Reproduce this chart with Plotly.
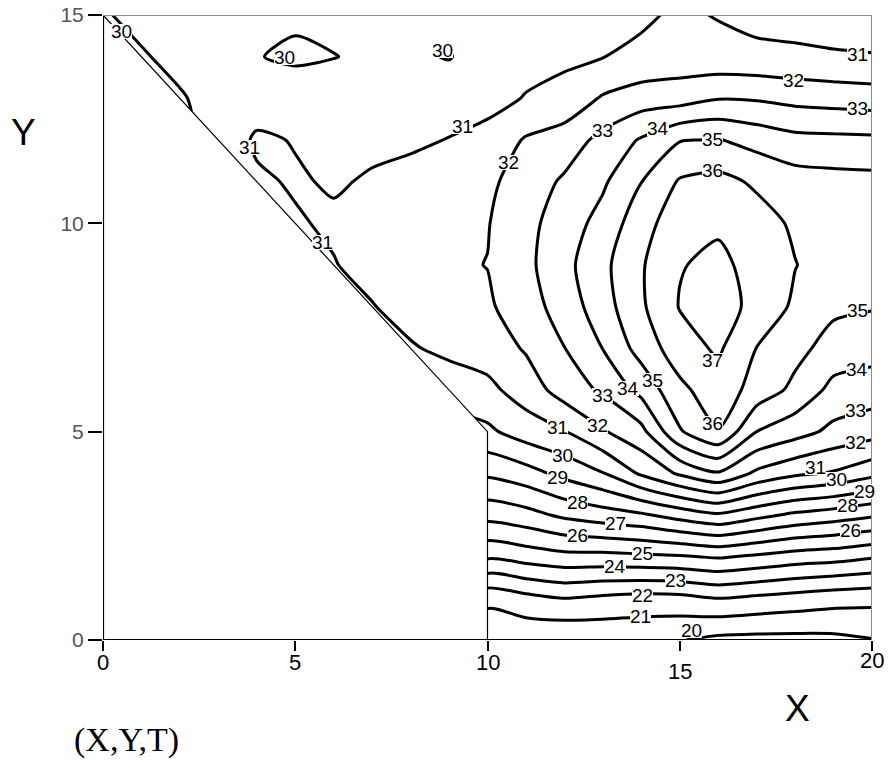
import plotly.graph_objects as go

# grid coordinates
x_vals = list(range(21))
y_vals = list(range(16))
N = None

# temperature field T(x, y), rows = y from 0 to 15, columns = x from 0 to 20
T_y0 = [N, N, N, N, N, N, N, N, N, N, 20.1, 20.2, 20.1, 20.2, 20.2, 20.05, 19.75, 19.7, 19.7, 19.75, 19.95]
T_y1 = [N, N, N, N, N, N, N, N, N, N, 21.3, 21.7, 22.0, 21.8, 21.65, 21.7, 22.0, 21.8, 21.6, 21.4, 21.3]
T_y2 = [N, N, N, N, N, N, N, N, N, N, 24.15, 24.45, 24.7, 24.7, 24.8, 24.9, 25.1, 24.85, 24.55, 24.4, 24.1]
T_y3 = [N, N, N, N, N, N, N, N, N, N, 26.35, 26.65, 27.2, 27.55, 27.85, 28.4, 28.85, 28.3, 27.8, 27.5, 27.15]
T_y4 = [N, N, N, N, N, N, N, N, N, N, 28.17, 28.6, 29.3, 29.95, 31.15, 32.15, 32.9, 31.8, 31.2, 30.9, 30.3]
T_y5 = [N, N, N, N, N, N, N, N, N, 29.6, 29.8, 30.5, 30.95, 31.9, 32.7, 34.9, 35.95, 34.0, 33.4, 32.75, 32.4]
T_y6 = [N, N, N, N, N, N, N, N, 30.3, 30.4, 30.75, 31.45, 32.45, 33.15, 34.3, 35.75, 36.6, 35.6, 34.75, 33.7, 33.5]
T_y7 = [N, N, N, N, N, N, N, 30.7, 30.9, 31.25, 31.45, 32.1, 32.98, 34.02, 35.4, 36.55, 37.15, 35.98, 35.3, 34.6, 34.4]
T_y8 = [N, N, N, N, N, N, 30.8, 30.95, 31.4, 31.65, 31.85, 32.57, 33.43, 34.57, 35.85, 37.05, 37.3, 36.8, 35.8, 35.2, 35.07]
T_y9 = [N, N, N, N, N, 30.8, 30.95, 31.35, 31.6, 31.85, 32.02, 32.75, 33.7, 34.75, 35.9, 36.95, 37.2, 36.7, 36.03, 35.55, 35.3]
T_y10 = [N, N, N, N, 30.7, 30.9, 31.15, 31.3, 31.5, 31.7, 31.95, 32.7, 33.5, 34.35, 35.6, 36.6, 36.87, 36.4, 35.85, 35.5, 35.35]
T_y11 = [N, N, N, 30.3, 30.85, 31.1, 30.9, 31.1, 31.3, 31.5, 31.8, 32.45, 33.15, 33.85, 34.98, 36.1, 36.3, 35.85, 35.45, 35.35, 35.3]
T_y12 = [N, N, 29.8, 30.3, 31.15, 30.95, 30.8, 30.8, 30.85, 31.03, 31.3, 32.1, 32.45, 33.3, 34.1, 34.95, 35.05, 34.65, 34.3, 34.25, 34.2]
T_y13 = [N, 29.7, 29.9, 30.4, 30.5, 30.7, 30.6, 30.55, 30.6, 30.6, 30.7, 31.05, 31.35, 32.1, 32.5, 32.57, 32.95, 32.9, 32.7, 32.6, 32.5]
T_y14 = [29.7, 29.9, 30.3, 30.35, 30.05, 29.8, 29.97, 30.2, 30.15, 29.95, 30.5, 30.7, 30.8, 30.98, 31.2, 31.4, 31.3, 31.25, 31.2, 31.1, 31.05]
T_y15 = [29.9, 30.3, 30.4, 30.4, 30.3, 30.2, 30.3, 30.4, 30.35, 30.3, 30.4, 30.5, 30.6, 30.7, 30.85, 31.15, 30.95, 30.7, 30.6, 30.55, 30.5]

T_grid = [T_y0, T_y1, T_y2, T_y3, T_y4, T_y5, T_y6, T_y7, T_y8, T_y9,
          T_y10, T_y11, T_y12, T_y13, T_y14, T_y15]

# contour levels that carry a label, and where the label sits (x, y)
label_level = [30, 30, 30, 31, 31, 31, 31, 32, 32, 33, 33, 34, 35, 36, 37,
               35, 34, 33, 32, 31, 30, 29, 28, 26,
               36, 35, 34, 33, 32, 31, 30, 29, 28, 27, 26, 25, 24, 23, 22, 21, 20]
label_x = [0.49, 4.73, 8.84, 3.82, 9.36, 5.72, 19.62, 10.55, 17.95, 13.0, 19.62, 14.43, 15.86, 15.84, 15.86,
           19.62, 19.62, 19.56, 19.56, 18.52, 19.08, 19.8, 19.35, 19.43,
           15.86, 14.28, 13.65, 13.0, 12.87, 11.81, 11.96, 11.83, 12.35, 13.32, 12.35, 14.02, 13.32, 14.88, 14.04, 13.97, 15.3]
label_y = [14.6, 13.97, 14.16, 11.83, 12.33, 9.55, 14.06, 11.45, 13.44, 12.24, 12.75, 12.28, 12.02, 11.26, 6.7,
           7.9, 6.5, 5.5, 4.73, 4.15, 3.86, 3.56, 3.22, 2.62,
           5.2, 6.24, 6.03, 5.88, 5.16, 5.1, 4.42, 3.9, 3.3, 2.8, 2.51, 2.07, 1.76, 1.42, 1.07, 0.57, 0.22]

x_tick_vals = [0, 5, 10, 15, 20]
x_tick_text = ["0", "5", "10", "15", "20"]
y_tick_vals = [0, 5, 10, 15]
x_tick_shift = [-22, -22, -22, -31, -20]

NARROW = "Liberation Sans Narrow, Arial Narrow, Liberation Sans, Arial, sans-serif"
SANS = "Liberation Sans, Arial, sans-serif"

fig = go.Figure()
fig.add_trace(go.Contour(
    x=x_vals, y=y_vals, z=T_grid,
    connectgaps=True,
    autocontour=False,
    contours=dict(start=20, end=37, size=1, coloring="none", showlabels=False),
    line=dict(color="black", width=3, smoothing=0.7),
    showscale=False, hoverinfo="skip",
))

shapes = [
    # region outside the domain
    dict(type="path", path="M 0,15 L 10,5 L 10,0 L 0,0 Z", xref="x", yref="y",
         fillcolor="white", line=dict(color="black", width=1.2), layer="above"),
    # axis lines
    dict(type="line", xref="x", yref="y", x0=0, x1=0, y0=0, y1=15,
         line=dict(color="black", width=2.2), layer="above"),
    dict(type="line", xref="x", yref="y", x0=0, x1=20, y0=0, y1=0,
         line=dict(color="black", width=2.2), layer="above"),
    # frame
    dict(type="line", xref="x", yref="y", x0=0, x1=20, y0=15, y1=15,
         line=dict(color="#8a8a8a", width=2), layer="above"),
    dict(type="line", xref="x", yref="y", x0=20, x1=20, y0=0, y1=15,
         line=dict(color="#8a8a8a", width=2), layer="above"),
]

annotations = []
for lv, lx, ly in zip(label_level, label_x, label_y):
    annotations.append(dict(x=lx, y=ly, xref="x", yref="y", text=str(lv), showarrow=False,
                            xanchor="center", yanchor="middle", height=15,
                            bgcolor="white", borderpad=0, borderwidth=0,
                            font=dict(size=19, color="black", family=NARROW)))
for v, t, dy in zip(x_tick_vals, x_tick_text, x_tick_shift):
    annotations.append(dict(x=v, y=0, xref="x", yref="paper", text=t, showarrow=False,
                            xanchor="center", yanchor="middle", yshift=dy,
                            font=dict(size=22, color="black", family=SANS)))
annotations += [
    dict(x=0, y=12.17, xref="paper", yref="y", text="Y", showarrow=False,
         xanchor="center", yanchor="middle", xshift=-80,
         font=dict(size=37, color="black", family=SANS)),
    dict(x=20, y=0, xref="x", yref="paper", text="X", showarrow=False,
         xanchor="center", yanchor="middle", xshift=-75, yshift=-68,
         font=dict(size=37, color="black", family=SANS)),
    dict(x=0, y=0, xref="paper", yref="paper", text="(X,Y,T)", showarrow=False,
         xanchor="center", yanchor="middle", xshift=23, yshift=-100,
         font=dict(size=34, color="black", family="Liberation Serif, Times New Roman, serif")),
]

fig.update_layout(
    width=888, height=760,
    margin=dict(l=103, r=16, t=15, b=120),
    paper_bgcolor="white", plot_bgcolor="white",
    showlegend=False,
    shapes=shapes,
    annotations=annotations,
)
fig.update_xaxes(range=[0, 20], showgrid=False, zeroline=False, showline=False, automargin=False,
                 ticks="outside", ticklen=10, tickwidth=2, tickcolor="black",
                 tickvals=x_tick_vals, showticklabels=False)
fig.update_yaxes(range=[0, 15], showgrid=False, zeroline=False, showline=False, automargin=False,
                 ticks="outside", ticklen=14, tickwidth=2, tickcolor="black",
                 tickvals=y_tick_vals,
                 tickfont=dict(size=21, color="#555555", family=NARROW))

fig.write_html("out.html", config={"displayModeBar": False},
               post_script="document.body.style.margin='0';")
